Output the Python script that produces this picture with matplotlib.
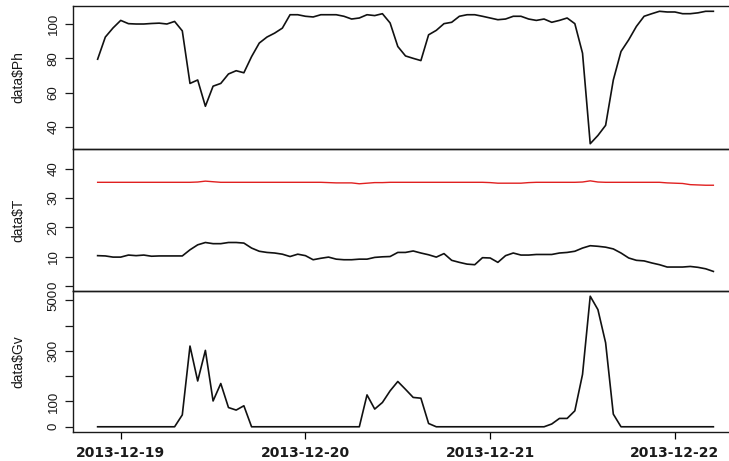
import numpy as np
import pandas as pd
import matplotlib
matplotlib.use("Agg")
import matplotlib.pyplot as plt
import matplotlib.dates as mdates

# hourly readings, 2013-12-18 21:00 .. 2013-12-22 05:00
times = pd.date_range("2013-12-18 21:00", "2013-12-22 05:00", freq="h")

ph = [79.5, 92.4, 97.7, 102.1, 100.2, 100.0, 100.0, 100.3, 100.5, 100.0,
      101.5, 96.0, 65.4, 67.4, 52.1, 63.8, 65.4, 70.9, 72.8, 71.6,
      81.0, 88.9, 92.4, 94.7, 97.6, 105.4, 105.4, 104.5, 104.1, 105.4,
      105.4, 105.4, 104.5, 102.9, 103.5, 105.4, 104.9, 106.0, 100.6, 86.9,
      81.4, 80.0, 78.7, 93.7, 96.3, 100.2, 101.0, 104.5, 105.4, 105.4,
      104.5, 103.5, 102.5, 102.9, 104.5, 104.5, 102.9, 102.1, 102.9, 101.0,
      102.1, 103.5, 100.2, 83.0, 30.3, 35.1, 41.0, 67.4, 84.0, 90.8,
      98.6, 104.5, 106.0, 107.4, 107.0, 107.0, 106.0, 106.0, 106.5, 107.4,
      107.4]

t_in = [35.4, 35.4, 35.4, 35.4, 35.4, 35.4, 35.4, 35.4, 35.4, 35.4,
        35.4, 35.4, 35.4, 35.5, 35.8, 35.6, 35.4, 35.4, 35.4, 35.4,
        35.4, 35.4, 35.4, 35.4, 35.4, 35.4, 35.4, 35.4, 35.4, 35.4,
        35.3, 35.2, 35.2, 35.2, 34.9, 35.1, 35.3, 35.3, 35.4, 35.4,
        35.4, 35.4, 35.4, 35.4, 35.4, 35.4, 35.4, 35.4, 35.4, 35.4,
        35.4, 35.3, 35.1, 35.1, 35.1, 35.1, 35.3, 35.4, 35.4, 35.4,
        35.4, 35.4, 35.4, 35.5, 35.9, 35.5, 35.4, 35.4, 35.4, 35.4,
        35.4, 35.4, 35.4, 35.4, 35.2, 35.1, 35.0, 34.6, 34.5, 34.4,
        34.4]

t_out = [10.3, 10.2, 9.8, 9.8, 10.5, 10.3, 10.5, 10.1, 10.2, 10.2,
         10.2, 10.2, 12.3, 14.0, 14.8, 14.4, 14.4, 14.8, 14.8, 14.6,
         12.9, 11.8, 11.4, 11.2, 10.8, 10.0, 10.8, 10.3, 8.9, 9.4,
         9.8, 9.1, 8.9, 8.9, 9.1, 9.1, 9.7, 9.9, 10.0, 11.4,
         11.4, 11.9, 11.2, 10.6, 9.8, 11.0, 8.7, 8.0, 7.4, 7.2,
         9.6, 9.5, 8.0, 10.3, 11.2, 10.5, 10.5, 10.7, 10.7, 10.7,
         11.2, 11.4, 11.8, 12.9, 13.7, 13.5, 13.2, 12.6, 11.2, 9.5,
         8.7, 8.5, 7.8, 7.2, 6.4, 6.4, 6.4, 6.6, 6.3, 5.8,
         4.9]

gv = [0, 0, 0, 0, 0, 0, 0, 0, 0, 0,
      0, 47, 319, 181, 302, 102, 171, 76, 66, 83,
      0, 0, 0, 0, 0, 0, 0, 0, 0, 0,
      0, 0, 0, 0, 0, 126, 70, 96, 142, 179,
      148, 116, 113, 13, 0, 0, 0, 0, 0, 0,
      0, 0, 0, 0, 0, 0, 0, 0, 0, 11,
      33, 33, 63, 207, 516, 463, 332, 50, 0, 0,
      0, 0, 0, 0, 0, 0, 0, 0, 0, 0,
      0]

date_ticks = ["2013-12-19", "2013-12-20", "2013-12-21", "2013-12-22"]

plt.rcParams["font.family"] = ["Liberation Sans", "DejaVu Sans"]

W, H = 729, 461
fig = plt.figure(figsize=(W / 100, H / 100), dpi=100)

def px_axes(top, bottom, left=73, right=738):
    return fig.add_axes([left / W, 1 - bottom / H, (right - left) / W, (bottom - top) / H])

def r_lim(lo, hi):
    pad = 0.04 * (hi - lo)
    return lo - pad, hi + pad

ax1 = px_axes(6, 149)
ax2 = px_axes(149, 291)
ax3 = px_axes(291, 432)

x = mdates.date2num(times)
xlim = r_lim(x[0], x[-1])

line_kw = dict(color="#111111", lw=1.2)
ax1.plot(x, ph, **line_kw)
ax2.plot(x, t_out, **line_kw)
ax2.plot(x, t_in, color="#e02020", lw=1.0)
ax3.plot(x, gv, **line_kw)

ax1.set_ylim(*r_lim(min(ph), max(ph)))
ax2.set_ylim(*r_lim(0, 45))
ax3.set_ylim(*r_lim(0, max(gv)))

ax1.set_yticks([40, 60, 80, 100])
ax2.set_yticks([0, 10, 20, 30, 40])
ax3.set_yticks([0, 100, 200, 300, 400, 500])
ax3.set_yticklabels(["0", "100", "", "300", "", "500"])

for ax, lab in [(ax1, "data$Ph"), (ax2, "data$T"), (ax3, "data$Gv")]:
    ax.set_xlim(*xlim)
    for s in ax.spines.values():
        s.set_linewidth(1.0)
        s.set_color("#1a1a1a")
    ax.tick_params(axis="y", length=5.5, width=0.9, pad=4, labelsize=9.5,
                   colors="#1a1a1a")
    for t in ax.get_yticklabels():
        t.set_rotation(90)
        t.set_va("center")
    ax.set_ylabel(lab, fontsize=10, color="#1a1a1a")
    ax.yaxis.set_label_coords(-0.072, 0.5)
    ax.patch.set_visible(False)

ax1.set_xticks([])
ax2.set_xticks([])
ax3.set_xticks(mdates.date2num(pd.to_datetime(date_ticks)))
ax3.set_xticklabels(date_ticks, family="DejaVu Sans", fontweight="bold",
                    fontsize=10, color="#1a1a1a")
ax3.tick_params(axis="x", length=5, width=0.9, pad=5)

fig.savefig("out.png", dpi=100)
